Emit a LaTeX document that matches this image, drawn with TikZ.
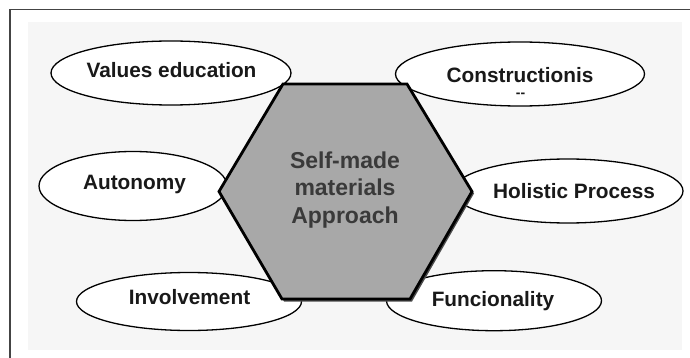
\documentclass[tikz,border=0pt]{standalone}
\usepackage{fontspec}
\setmainfont{Liberation Sans}
\usetikzlibrary{shapes.geometric}
\definecolor{hexfill}{HTML}{A8A8A8}
\definecolor{hextext}{HTML}{3A3A3A}
\definecolor{framec}{HTML}{444444}
\definecolor{bgc}{HTML}{F6F6F6}
\tikzset{
  oval/.style={ellipse, draw=black, fill=white, line width=1.3pt, inner sep=0pt},
  lbl/.style={font=\fontsize{20.8}{23}\selectfont\bfseries, text=black!90, inner sep=0pt},
  hexlbl/.style={font=\fontsize{23}{27.5}\selectfont\bfseries, text=hextext, align=center, inner sep=0pt},
}
\begin{document}
\begin{tikzpicture}[x=1pt,y=-1pt]
\useasboundingbox (0,0) rectangle (690,358);
% background and frame
\fill[bgc] (28,22) rectangle (682,350);
\draw[framec, line width=1.5pt] (10,358) -- (10,9.5) -- (690,9.5);
% ellipses
\node[oval, minimum width=240pt, minimum height=64pt] (ve) at (171,73) {};
\node[oval, minimum width=249pt, minimum height=64pt] (co) at (520,74) {};
\node[oval, minimum width=188pt, minimum height=69pt] (au) at (133,186) {};
\node[oval, minimum width=230pt, minimum height=64pt] (hp) at (568,191) {};
\node[oval, minimum width=225pt, minimum height=58pt] (in) at (189,301.5) {};
\node[oval, minimum width=215pt, minimum height=60pt] (fu) at (494,300.7) {};
% labels
\node[lbl] (vet) at (171.5,70) {Values education};
\node[lbl] (cot) at (520,75) {Constructionis};
\node[lbl, font=\fontsize{14}{16}\selectfont\bfseries] (cod) at (520.5,95) {-{}-};
\node[lbl] (aut) at (134.5,185) {Autonomy};
\node[lbl] (hpt) at (574,191.3) {Holistic Process};
\node[lbl] (int) at (189.5,297) {Involvement};
\node[lbl] (fut) at (493,301) {Funcionality};
% hexagon shadow and body
\fill[black!70] (285,86) -- (409,86) -- (474,193.5) -- (412,301.5) -- (284,301.5) -- (221,193.5) -- cycle;
\draw[fill=hexfill, line width=2.8pt, line join=miter] (283,84) -- (407,84) -- (472,191.5) -- (410,299) -- (282,299) -- (219,191.5) -- cycle;
\node[hexlbl] (hx) at (345,190) {Self-made\\materials\\Approach};
\end{tikzpicture}
\end{document}
